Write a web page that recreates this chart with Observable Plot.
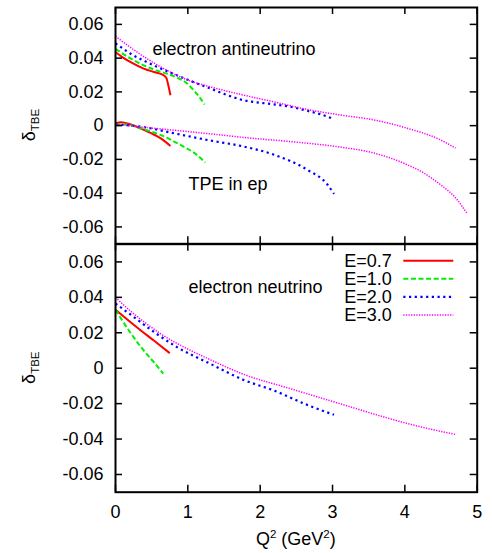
<!DOCTYPE html>
<html>
<head>
<meta charset="utf-8">
<script src="https://cdn.jsdelivr.net/npm/d3@7"></script>
<script src="https://cdn.jsdelivr.net/npm/@observablehq/plot@0.6"></script>
<style>
  html, body { margin: 0; padding: 0; background: #fff; }
  #wrap { position: relative; width: 492px; height: 553px; overflow: hidden; }
  #top, #bot { position: absolute; left: 0; width: 492px; }
  #top { top: 0; }
  #bot { top: 243px; }
</style>
</head>
<body>
<div id="wrap"><div id="top"></div><div id="bot"></div></div>
<script>
// ---- data (Q^2 in GeV^2, delta_TBE) ----
const energyLabels = ["E=0.7", "E=1.0", "E=2.0", "E=3.0"];
const yTicks = [-0.06, -0.04, -0.02, 0, 0.02, 0.04, 0.06];
const xTicks = [0, 1, 2, 3, 4, 5];

// top panel: electron antineutrino
const antiE07 = [[0,0.0435],[0.1,0.0405],[0.21,0.0376],[0.39,0.0338],[0.53,0.0318],[0.65,0.0302],[0.70,0.0285],[0.73,0.024],[0.76,0.018]];
const antiE10 = [[0,0.0455],[0.2,0.040],[0.39,0.0357],[0.55,0.0330],[0.71,0.0308],[0.85,0.0285],[0.99,0.025],[1.08,0.021],[1.15,0.0175],[1.23,0.0125]];
const antiE20 = [[0,0.0488],[0.21,0.0426],[0.48,0.0367],[0.85,0.0298],[1.31,0.022],[1.73,0.0155],[2.19,0.0126],[2.42,0.0112],[2.65,0.0088],[2.85,0.0065],[3.02,0.0038]];
const antiE30 = [[0,0.053],[0.3,0.0435],[0.71,0.0328],[1.0,0.027],[1.31,0.023],[1.73,0.0185],[2.19,0.0141],[2.65,0.0096],[3.11,0.0063],[3.57,0.0034],[4.03,-0.0015],[4.49,-0.0084],[4.70,-0.0133]];

// top panel: TPE in ep
const tpeE07 = [[0,0.0014],[0.08,0.002],[0.2,0.0008],[0.39,-0.0025],[0.62,-0.0074],[0.76,-0.012]];
const tpeE10 = [[0,0.001],[0.2,0.0003],[0.39,-0.0021],[0.62,-0.0055],[0.94,-0.0124],[1.1,-0.0165],[1.24,-0.0218]];
const tpeE20 = [[0,0.0008],[0.39,-0.0009],[0.85,-0.0049],[1.31,-0.0088],[1.73,-0.012],[2.19,-0.0172],[2.65,-0.0261],[2.93,-0.0349],[3.02,-0.0404]];
const tpeE30 = [[0,0.0008],[0.4,-0.001],[0.85,-0.0029],[1.3,-0.0048],[1.73,-0.0068],[2.65,-0.0104],[3.11,-0.0127],[3.57,-0.0162],[3.80,-0.0192],[4.03,-0.0231],[4.26,-0.028],[4.49,-0.0349],[4.72,-0.0437],[4.86,-0.0521]];

// bottom panel: electron neutrino
const nuE07 = [[0,0.033],[0.35,0.0213],[0.53,0.0156],[0.75,0.0085]];
const nuE10 = [[0,0.033],[0.21,0.0198],[0.39,0.010],[0.53,0.0034],[0.66,-0.003]];
const nuE20 = [[0,0.0365],[0.25,0.029],[0.53,0.0205],[0.85,0.0119],[1.31,0.0025],[1.77,-0.0066],[2.19,-0.0126],[2.65,-0.0207],[3.02,-0.0263]];
const nuE30 = [[0,0.040],[0.2,0.0325],[0.4,0.026],[0.62,0.0195],[0.85,0.0140],[1.0,0.0108],[1.31,0.0048],[1.73,-0.0028],[2.42,-0.0116],[3.11,-0.0201],[3.80,-0.0286],[4.26,-0.0335],[4.70,-0.0374]];

const panelTexts = { top1: "electron antineutrino", top2: "TPE in ep", bottom: "electron neutrino" };

// ---- styles ----
const styles = [
  {stroke: "#ff0000", strokeWidth: 2, strokeDasharray: null},
  {stroke: "#00ee00", strokeWidth: 2, strokeDasharray: "5,2.6"},
  {stroke: "#0000ff", strokeWidth: 2.2, strokeDasharray: "2.2,3.5"},
  {stroke: "#ff00ff", strokeWidth: 1.5, strokeDasharray: "1.3,1.3"}
];
const FONT = "Liberation Sans, Arial, Helvetica, sans-serif";
const FS = 18;
const W = 492, ML = 115, MR = 15.3;
const FW = W - ML - MR;
const TICK = 7;

function seriesMarks(groups) {
  const marks = [];
  groups.forEach(arrs => arrs.forEach((arr, i) => {
    marks.push(Plot.line(arr, {x: d => d[0], y: d => d[1], curve: "monotone-x",
      stroke: styles[i].stroke, strokeWidth: styles[i].strokeWidth,
      strokeDasharray: styles[i].strokeDasharray, strokeLinecap: "butt"}));
  }));
  return marks;
}

// frame, inward ticks on all four sides (through the plot's scales), y tick labels
function frameMarks(FH) {
  return [
    Plot.tickY(yTicks, {y: d => d, insetRight: FW - TICK, stroke: "black", strokeWidth: 1.5}),
    Plot.tickY(yTicks, {y: d => d, insetLeft: FW - TICK, stroke: "black", strokeWidth: 1.5}),
    Plot.tickX(xTicks, {x: d => d, insetBottom: FH - TICK, stroke: "black", strokeWidth: 1.5}),
    Plot.tickX(xTicks, {x: d => d, insetTop: FH - TICK, stroke: "black", strokeWidth: 1.5}),
    Plot.frame({stroke: "black", strokeWidth: 2}),
    Plot.axisY(yTicks, {tickSize: 0, tickPadding: 12, fontSize: FS,
      tickFormat: d => d === 0 ? "0" : d.toFixed(2)})
  ];
}

function addYLabel(svg, cy) {
  const t = d3.select(svg).append("text")
    .attr("transform", `translate(35,${cy}) rotate(-90)`)
    .attr("text-anchor", "middle")
    .attr("font-family", FONT).attr("font-size", FS).attr("fill", "black");
  t.append("tspan").text("δ");
  t.append("tspan").attr("font-size", 11.5).attr("dy", 4.3).text("TBE");
}

const commonStyle = {fontFamily: FONT, fontSize: FS + "px", background: "white", color: "black"};

// ---- top panel ----
const topH = 244, topMT = 7, topMB = 0.7;
const topPlot = Plot.plot({
  width: W, height: topH, marginLeft: ML, marginRight: MR, marginTop: topMT, marginBottom: topMB,
  style: commonStyle,
  x: {domain: [0, 5], axis: null},
  y: {domain: [-0.07, 0.07], axis: null},
  marks: [
    ...seriesMarks([[antiE07, antiE10, antiE20, antiE30], [tpeE07, tpeE10, tpeE20, tpeE30]]),
    ...frameMarks(topH - topMT - topMB),
    Plot.text([panelTexts.top1], {text: d => d, frameAnchor: "top-left", textAnchor: "start", dx: 37, dy: 34.6, fontSize: FS, fill: "black"}),
    Plot.text([panelTexts.top2], {text: d => d, frameAnchor: "top-left", textAnchor: "start", dx: 73, dy: 169.6, fontSize: FS, fill: "black"})
  ]
});
document.getElementById("top").appendChild(topPlot);
addYLabel(topPlot, 125);

// ---- bottom panel ----
const botH = 310, botMT = 0.7, botFH = 248, botMB = botH - botMT - botFH;
const botPlot = Plot.plot({
  width: W, height: botH, marginLeft: ML, marginRight: MR, marginTop: botMT, marginBottom: botMB,
  style: {...commonStyle, background: "transparent"},
  x: {domain: [0, 5], axis: null},
  y: {domain: [-0.07, 0.07], axis: null},
  marks: [
    ...seriesMarks([[nuE07, nuE10, nuE20, nuE30]]),
    ...frameMarks(botFH),
    Plot.axisX(xTicks, {tickSize: 0, tickPadding: 13, fontSize: FS, tickFormat: d => String(d)}),
    Plot.text([panelTexts.bottom], {text: d => d, frameAnchor: "top-left", textAnchor: "start", dx: 73, dy: 35.9, fontSize: FS, fill: "black"})
  ]
});
document.getElementById("bot").appendChild(botPlot);
addYLabel(botPlot, 124.7);

// x label
const xl = d3.select(botPlot).append("text")
  .attr("x", ML + FW / 2).attr("y", 302)
  .attr("text-anchor", "middle").attr("font-family", FONT).attr("font-size", FS).attr("fill", "black");
xl.append("tspan").text("Q");
xl.append("tspan").attr("font-size", 11.5).attr("dy", -7).text("2");
xl.append("tspan").attr("dy", 7).text(" (GeV");
xl.append("tspan").attr("font-size", 11.5).attr("dy", -7).text("2");
xl.append("tspan").attr("dy", 7).text(")");

// legend
const lg = d3.select(botPlot).append("g");
energyLabels.forEach((lab, i) => {
  const y = 17.7 + i * 18.1;
  lg.append("text").attr("x", 391.7).attr("y", y).attr("dy", "0.34em")
    .attr("text-anchor", "end").attr("font-family", FONT).attr("font-size", FS).attr("fill", "black").text(lab);
  lg.append("line").attr("x1", 403.3).attr("x2", 453.3).attr("y1", y).attr("y2", y)
    .attr("stroke", styles[i].stroke).attr("stroke-width", styles[i].strokeWidth)
    .attr("stroke-dasharray", styles[i].strokeDasharray);
});
</script>
</body>
</html>
